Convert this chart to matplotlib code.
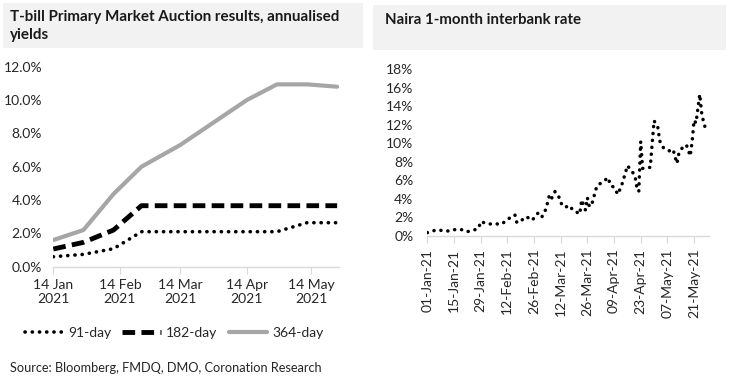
import matplotlib
matplotlib.use("Agg")
import matplotlib.pyplot as plt
from matplotlib.patches import Rectangle
import pandas as pd

plt.rcParams['font.family'] = ['Lato', 'DejaVu Sans']

# ---- Left chart data: T-bill auction yields (%)
auction_dates = ["2021-01-14", "2021-01-28", "2021-02-11", "2021-02-24", "2021-03-14",
                 "2021-04-14", "2021-04-28", "2021-05-12", "2021-05-26"]
yield_91 = [0.60, 0.74, 1.08, 2.10, 2.10, 2.10, 2.10, 2.64, 2.64]
yield_182 = [1.06, 1.46, 2.20, 3.66, 3.66, 3.66, 3.66, 3.66, 3.66]
yield_364 = [1.60, 2.20, 4.36, 6.00, 7.30, 10.00, 10.94, 10.94, 10.80]
left_ticks = ["2021-01-14", "2021-02-14", "2021-03-14", "2021-04-14", "2021-05-14"]
left_tick_labels = ["14 Jan\n2021", "14 Feb\n2021", "14 Mar\n2021", "14 Apr\n2021", "14 May\n2021"]
left_yticks = [0, 2, 4, 6, 8, 10, 12]

# ---- Right chart data: Naira 1-month interbank rate (%)
ib_dates = ["2021-01-01", "2021-01-05", "2021-01-08", "2021-01-12", "2021-01-15", "2021-01-19",
            "2021-01-22", "2021-01-26", "2021-01-28", "2021-01-29", "2021-02-02", "2021-02-05",
            "2021-02-09", "2021-02-12", "2021-02-14", "2021-02-16", "2021-02-17", "2021-02-19",
            "2021-02-22", "2021-02-25", "2021-02-28", "2021-03-02", "2021-03-04", "2021-03-05",
            "2021-03-06", "2021-03-07", "2021-03-09", "2021-03-11", "2021-03-12", "2021-03-14",
            "2021-03-17", "2021-03-18", "2021-03-20", "2021-03-22", "2021-03-23", "2021-03-25",
            "2021-03-26", "2021-03-27", "2021-03-28", "2021-03-29", "2021-03-30", "2021-03-31",
            "2021-04-03", "2021-04-06", "2021-04-07", "2021-04-09", "2021-04-11", "2021-04-13",
            "2021-04-14", "2021-04-15", "2021-04-16", "2021-04-18", "2021-04-20", "2021-04-21",
            "2021-04-22", "2021-04-23", "2021-04-24", "2021-04-27", "2021-04-28", "2021-04-30",
            "2021-05-02", "2021-05-03", "2021-05-05", "2021-05-08", "2021-05-10", "2021-05-11",
            "2021-05-12", "2021-05-13", "2021-05-15", "2021-05-17", "2021-05-19", "2021-05-20",
            "2021-05-21", "2021-05-22", "2021-05-24", "2021-05-25", "2021-05-26", "2021-05-27",
            "2021-05-28"]
ib_rate = [0.36, 0.61, 0.61, 0.54, 0.68, 0.68,
           0.47, 0.68, 0.86, 1.55, 1.30, 1.30,
           1.30, 1.73, 2.09, 2.27, 1.44, 1.62,
           2.09, 1.69, 2.45, 2.00, 2.80, 3.50,
           4.35, 3.96, 4.80, 4.25, 3.60, 3.10,
           3.27, 2.88, 2.63, 2.37, 3.90, 2.80,
           4.14, 3.24, 3.20, 3.90, 4.68, 5.40,
           5.85, 6.30, 5.50, 5.25, 4.50, 5.47,
           6.15, 6.84, 7.60, 7.10, 6.50, 5.20,
           4.80, 10.20, 7.30, 7.40, 7.40, 12.45,
           11.70, 10.26, 9.50, 9.20, 9.36, 8.56,
           7.84, 8.90, 9.58, 9.83, 8.64, 10.20,
           12.50, 12.20, 15.30, 13.25, 12.30, 11.60,
           11.40]
right_ticks = ["2021-01-01", "2021-01-15", "2021-01-29", "2021-02-12", "2021-02-26", "2021-03-12",
               "2021-03-26", "2021-04-09", "2021-04-23", "2021-05-07", "2021-05-21"]
right_tick_labels = ["01-Jan-21", "15-Jan-21", "29-Jan-21", "12-Feb-21", "26-Feb-21", "12-Mar-21",
                     "26-Mar-21", "09-Apr-21", "23-Apr-21", "07-May-21", "21-May-21"]
right_yticks = [0, 2, 4, 6, 8, 10, 12, 14, 16, 18]

W, H = 737, 389
fig = plt.figure(figsize=(W / 100, H / 100), dpi=100)
txt = '#262626'
axis_c = '#d9d9d9'
DOTS = (0, (0.05, 1.95))


def fax(l, t, r, b):
    return fig.add_axes([l / W, 1 - b / H, (r - l) / W, (b - t) / H])


def style(ax, ypad):
    for s in ['top', 'right', 'left']:
        ax.spines[s].set_visible(False)
    ax.spines['bottom'].set_color(axis_c)
    ax.spines['bottom'].set_linewidth(1.0)
    ax.tick_params(axis='y', length=0, labelsize=10, labelcolor=txt, pad=ypad)
    ax.tick_params(axis='x', length=5, color=axis_c, labelsize=10, labelcolor=txt, pad=4)
    ax.set_facecolor('none')


# Title boxes
fig.patches.append(Rectangle((3 / W, 1 - 48 / H), 360 / W, 45 / H, transform=fig.transFigure,
                             facecolor='#f2f2f2', edgecolor='none', zorder=0))
fig.patches.append(Rectangle((373 / W, 1 - 50 / H), 353 / W, 45 / H, transform=fig.transFigure,
                             facecolor='#f2f2f2', edgecolor='none', zorder=0))
fig.text(10 / W, 1 - 26 / H, "T-bill Primary Market Auction results, annualised\nyields",
         fontsize=10.9, fontweight='bold', color='#1a1a1a', va='center', ha='left', linespacing=1.3)
fig.text(385 / W, 1 - 20 / H, "Naira 1-month interbank rate",
         fontsize=10.8, fontweight='bold', color='#1a1a1a', va='center', ha='left')

# Left chart
axL = fax(53.3, 66.7, 339.3, 266.7)
d_auc = pd.to_datetime(auction_dates)
l91, = axL.plot(d_auc, yield_91, color='black', lw=2.6, linestyle=DOTS,
                dash_capstyle='round')
l182, = axL.plot(d_auc, yield_182, color='black', lw=3.5, linestyle=(0, (2.6, 1.3)))
l364, = axL.plot(d_auc, yield_364, color='#a6a6a6', lw=3, solid_capstyle='round')
axL.set_ylim(0, 12)
axL.set_yticks(left_yticks)
axL.set_yticklabels([f"{v:.1f}%" for v in left_yticks])
axL.set_xlim(pd.Timestamp("2021-01-14"), pd.Timestamp("2021-05-27"))
axL.set_xticks(pd.to_datetime(left_ticks))
axL.set_xticklabels(left_tick_labels, linespacing=1.15, multialignment='center')
style(axL, 8)

# Legend
fig.legend([l91, l182, l364], ["91-day", "182-day", "364-day"], loc='center left',
           bbox_to_anchor=(12 / W, 1 - 333 / H), ncol=3, frameon=False, fontsize=10,
           handlelength=2.8, handletextpad=0.35, columnspacing=0.8, labelcolor=txt)

fig.text(10 / W, 1 - 368 / H, "Source: Bloomberg, FMDQ, DMO, Coronation Research",
         fontsize=9.2, color=txt, va='center', ha='left')

# Right chart
axR = fax(427.3, 69.3, 709.3, 236)
d_ib = pd.to_datetime(ib_dates)
axR.plot(d_ib, ib_rate, color='black', lw=2.5, linestyle=DOTS, dash_capstyle='round')
axR.set_ylim(0, 18)
axR.set_yticks(right_yticks)
axR.set_yticklabels([f"{v}%" for v in right_yticks])
axR.set_xlim(pd.Timestamp("2021-01-01"), pd.Timestamp("2021-05-29"))
axR.set_xticks(pd.to_datetime(right_ticks))
axR.set_xticklabels(right_tick_labels, rotation=90)
style(axR, 10)

fig.savefig("out.png", dpi=100)
